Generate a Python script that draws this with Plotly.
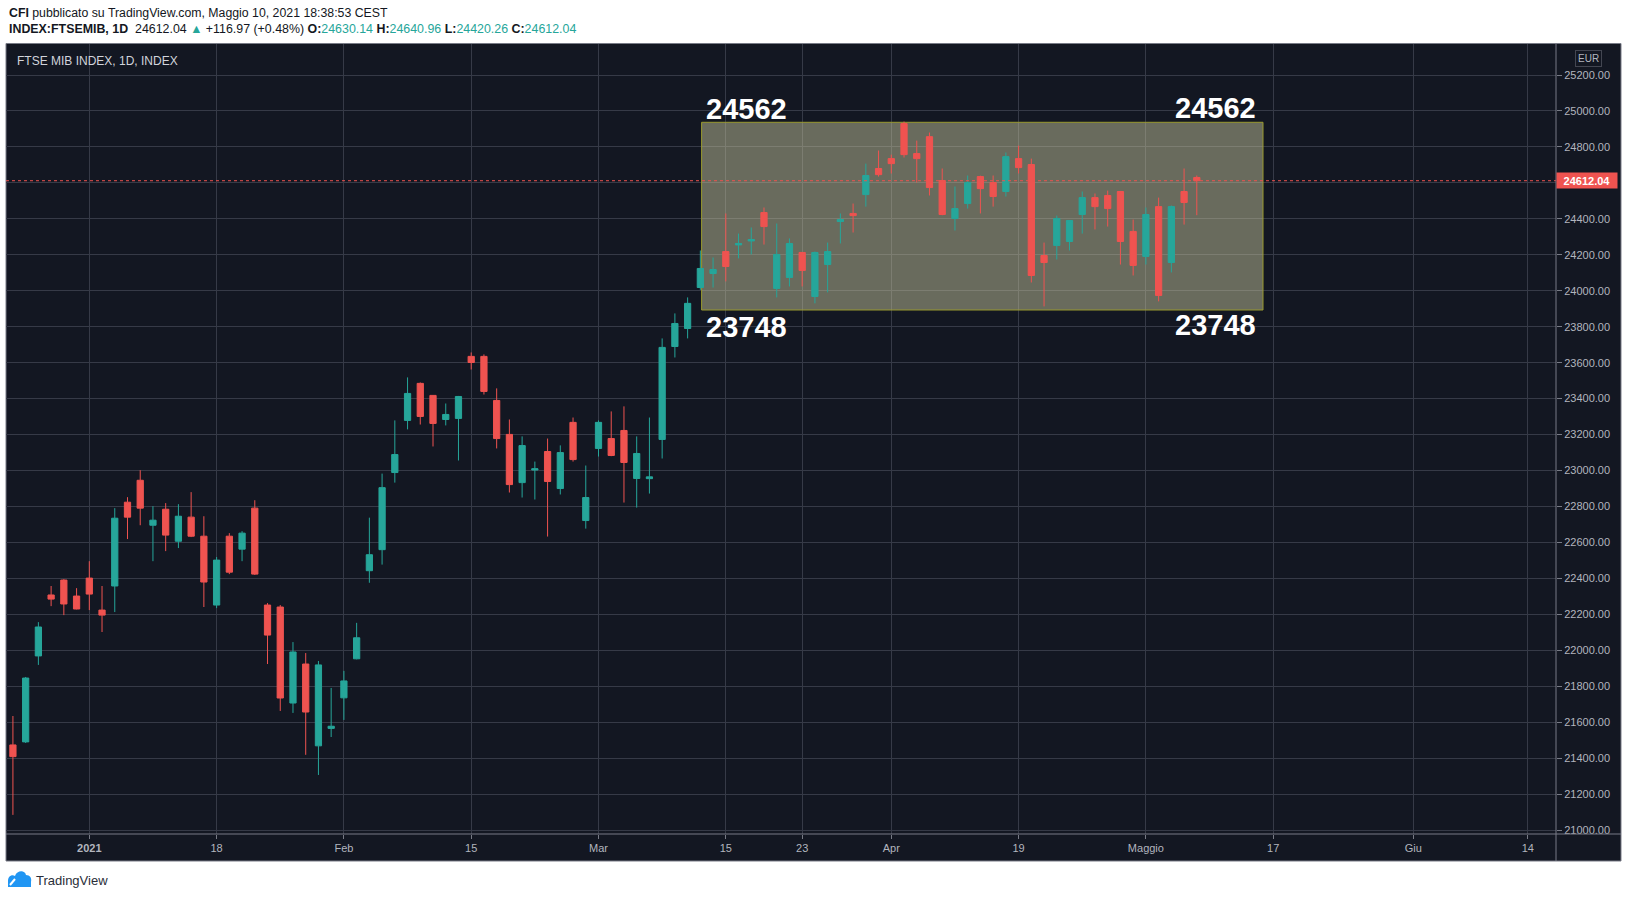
import plotly.graph_objects as go
import pandas as pd

# ---------------- data ----------------
dates = [
    "2020-12-21", "2020-12-22", "2020-12-23", "2020-12-28", "2020-12-29", "2020-12-30",
    "2021-01-04", "2021-01-05", "2021-01-06", "2021-01-07", "2021-01-08",
    "2021-01-11", "2021-01-12", "2021-01-13", "2021-01-14", "2021-01-15",
    "2021-01-18", "2021-01-19", "2021-01-20", "2021-01-21", "2021-01-22",
    "2021-01-25", "2021-01-26", "2021-01-27", "2021-01-28", "2021-01-29",
    "2021-02-01", "2021-02-02", "2021-02-03", "2021-02-04", "2021-02-05",
    "2021-02-08", "2021-02-09", "2021-02-10", "2021-02-11", "2021-02-12",
    "2021-02-15", "2021-02-16", "2021-02-17", "2021-02-18", "2021-02-19",
    "2021-02-22", "2021-02-23", "2021-02-24", "2021-02-25", "2021-02-26",
    "2021-03-01", "2021-03-02", "2021-03-03", "2021-03-04", "2021-03-05",
    "2021-03-08", "2021-03-09", "2021-03-10", "2021-03-11", "2021-03-12",
    "2021-03-15", "2021-03-16", "2021-03-17", "2021-03-18", "2021-03-19",
    "2021-03-22", "2021-03-23", "2021-03-24", "2021-03-25", "2021-03-26",
    "2021-03-29", "2021-03-30", "2021-03-31", "2021-04-01",
    "2021-04-06", "2021-04-07", "2021-04-08", "2021-04-09",
    "2021-04-12", "2021-04-13", "2021-04-14", "2021-04-15", "2021-04-16",
    "2021-04-19", "2021-04-20", "2021-04-21", "2021-04-22", "2021-04-23",
    "2021-04-26", "2021-04-27", "2021-04-28", "2021-04-29", "2021-04-30",
    "2021-05-03", "2021-05-04", "2021-05-05", "2021-05-06", "2021-05-07",
]
opens = [
    21474, 21491, 21969, 22308, 22391, 22302,
    22402, 22224, 22358, 22824, 22946,
    22696, 22785, 22607, 22741, 22635,
    22252, 22635, 22563, 22791, 22252,
    22241, 21707, 21924, 21469, 21566,
    21736, 21953, 22443, 22560, 22989,
    23279, 23485, 23418, 23284, 23290,
    23635, 23635, 23390, 23201, 22933,
    23003, 23106, 22900, 23268, 22722,
    23123, 23178, 23223, 22956, 22955,
    23173, 23690, 23790, 24018, 24096,
    24218, 24255, 24277, 24435, 24013,
    24074, 24213, 23968, 24146, 24385,
    24430, 24535, 24680, 24735,
    24930, 24763, 24857, 24613,
    24402, 24485, 24635, 24602, 24552,
    24735, 24702, 24196, 24252, 24274,
    24424, 24518, 24530, 24552, 24330,
    24191, 24468, 24157, 24552, 24630.14,
]
highs = [
    21635, 21852, 22157, 22358, 22396, 22346,
    22496, 22358, 22791, 22852, 23002,
    22802, 22819, 22813, 22880, 22746,
    22519, 22652, 22663, 22835, 22263,
    22252, 22046, 21985, 21941, 21791,
    21886, 22153, 22738, 22983, 23279,
    23518, 23490, 23420, 23373, 23415,
    23657, 23646, 23457, 23284, 23190,
    23050, 23178, 23140, 23295, 23028,
    23279, 23329, 23357, 23190, 23295,
    23735, 23874, 23963, 24224, 24185,
    24430, 24318, 24352, 24463, 24374,
    24291, 24215, 24218, 24268, 24430,
    24485, 24707, 24780, 24757,
    24941, 24835, 24880, 24680,
    24580, 24641, 24640, 24641, 24769,
    24807, 24735, 24268, 24418, 24393,
    24552, 24541, 24557, 24555, 24396,
    24463, 24518, 24474, 24680, 24640.96,
]
lows = [
    21085, 21485, 21919, 22246, 22196, 22228,
    22224, 22102, 22213, 22619, 22696,
    22496, 22552, 22569, 22630, 22241,
    22235, 22424, 22496, 22419, 21924,
    21663, 21652, 21419, 21307, 21518,
    21613, 21950, 22376, 22477, 22933,
    23229, 23256, 23134, 23251, 23056,
    23562, 23423, 23123, 22878, 22850,
    22839, 22633, 22867, 23050, 22677,
    23078, 23080, 22822, 22794, 22872,
    23067, 23629, 23735, 24005, 24018,
    24052, 24180, 24202, 24257, 23963,
    24024, 24024, 23930, 23991, 24263,
    24324, 24468, 24635, 24652,
    24741, 24602, 24530, 24420,
    24335, 24457, 24430, 24468, 24524,
    24652, 24046, 23913, 24174, 24224,
    24318, 24341, 24357, 24146, 24085,
    24146, 23941, 24102, 24368, 24420.26,
]
closes = [
    21409, 21846, 22130, 22285, 22258, 22230,
    22313, 22196, 22735, 22741, 22791,
    22724, 22641, 22746, 22635, 22380,
    22502, 22435, 22652, 22424, 22085,
    21735, 21991, 21657, 21919, 21578,
    21830, 22070, 22532, 22905, 23089,
    23429, 23301, 23262, 23312, 23412,
    23601, 23440, 23178, 22922, 23139,
    23010, 22939, 23100, 23061, 22850,
    23268, 23084, 23045, 23095, 22965,
    23685, 23818, 23930, 24124, 24118,
    24135, 24263, 24285, 24357, 24202,
    24263, 24113, 24213, 24218, 24396,
    24418, 24641, 24646, 24707,
    24757, 24735, 24574, 24424,
    24457, 24602, 24568, 24524, 24746,
    24685, 24085, 24157, 24402, 24391,
    24518, 24468, 24457, 24274, 24141,
    24424, 23974, 24468, 24491, 24612.04,
]

tick_dates = ["2021-01-04", "2021-01-18", "2021-02-01", "2021-02-15", "2021-03-01",
              "2021-03-15", "2021-03-23", "2021-04-01", "2021-04-19", "2021-05-03",
              "2021-05-17", "2021-06-01", "2021-06-14"]
tick_labels = ["<b>2021</b>", "18", "Feb", "15", "Mar", "15", "23", "Apr", "19",
               "Maggio", "17", "Giu", "14"]

price_ticks = list(range(21000, 25201, 200))
price_labels = [f"{v}.00" for v in price_ticks]
last_price = 24612.04

zone_labels_top = "24562"
zone_labels_bottom = "23748"
# zone rectangle drawing (bar index / price)
zone_x = [54.1, 98.2]
zone_y = [23893, 24937]

# ---------------- styles ----------------
W, H = 1627, 899
PL, PR, PT, PB = 6, 1556, 44, 834
BG = "#131722"
GRID = "#363a47"
SEP = "#787b86"
TXT = "#b2b5be"
UP = "#26a69a"
DN = "#ef5350"
FONT = "Liberation Sans, Arial, sans-serif"

PX_PER_BAR = 12.73
X0_PIX = 89.3  # pixel of bar 6
x_lo = 6 - (X0_PIX - PL) / PX_PER_BAR
x_hi = x_lo + (PR - PL) / PX_PER_BAR
PX_PER_UNIT = 0.1798
y_hi = 25200 + (75 - PT) / PX_PER_UNIT
y_lo = y_hi - (PB - PT) / PX_PER_UNIT


def xp(px):
    return (px - PL) / (PR - PL)


def yp(py):
    return (PB - py) / (PB - PT)


def bar_index(d):
    if d in dates:
        return dates.index(d)
    extra = pd.bdate_range(pd.Timestamp(dates[-1]) + pd.Timedelta(days=1), pd.Timestamp(d))
    return len(dates) - 1 + len(extra)


xs = list(range(len(dates)))
tick_x = [bar_index(d) for d in tick_dates]

fig = go.Figure()
fig.add_trace(go.Candlestick(
    x=xs, open=opens, high=highs, low=lows, close=closes,
    increasing=dict(line=dict(color=UP, width=1), fillcolor=UP),
    decreasing=dict(line=dict(color=DN, width=1), fillcolor=DN),
    whiskerwidth=0, hoverinfo="skip", showlegend=False,
))

shapes = []
# dark chart panel
shapes.append(dict(type="rect", xref="paper", yref="paper",
                   x0=xp(6), x1=xp(1621), y0=yp(861), y1=yp(43.5),
                   fillcolor=BG, line=dict(color=SEP, width=1), layer="below"))
# zone rectangle
shapes.append(dict(type="rect", xref="x", yref="y",
                   x0=zone_x[0], x1=zone_x[1], y0=zone_y[0], y1=zone_y[1],
                   fillcolor="rgba(201,198,159,0.48)",
                   line=dict(color="#9a9a2e", width=1), layer="between"))
# last price dotted line
shapes.append(dict(type="line", xref="paper", yref="y", x0=0, x1=1,
                   y0=last_price, y1=last_price,
                   line=dict(color=DN, width=1, dash="dot")))
# separators
shapes.append(dict(type="line", xref="paper", yref="paper", x0=xp(PR), x1=xp(PR),
                   y0=yp(861), y1=yp(43.5), line=dict(color=SEP, width=1)))
shapes.append(dict(type="line", xref="paper", yref="paper", x0=xp(6), x1=xp(1621),
                   y0=yp(PB), y1=yp(PB), line=dict(color=SEP, width=1)))


def path(points, close=True):
    s = ""
    for cmd, pts in points:
        s += cmd + " " + " ".join(f"{xp(a):.5f},{yp(b):.5f}" for a, b in pts) + " "
    return s + ("Z" if close else "")


cloud = [("M", [(8, 887)]), ("L", [(8, 881)]),
         ("C", [(8, 876), (12, 874), (15, 876)]),
         ("C", [(17, 870), (25, 870), (26, 875)]),
         ("C", [(30, 875), (32, 878), (31, 882)]),
         ("L", [(31, 887)])]
shapes.append(dict(type="path", xref="paper", yref="paper", path=path(cloud),
                   fillcolor="#2196f3", line=dict(width=0)))
zig = [("M", [(10, 885)]), ("L", [(15, 879), (19, 883), (24, 877), (29, 882)])]
shapes.append(dict(type="path", xref="paper", yref="paper", path=path(zig, close=False),
                   line=dict(color="white", width=2)))

ann = []
hdr = "#131722"
ann.append(dict(xref="paper", yref="paper", x=xp(7), y=yp(13), xanchor="left", yanchor="middle",
                text="<b>CFI</b> pubblicato su TradingView.com, Maggio 10, 2021 18:38:53 CEST",
                showarrow=False, font=dict(family=FONT, size=12.3, color=hdr)))
g = lambda t: f"<span style='color:{UP}'>{t}</span>"
line2 = ("<b>INDEX:FTSEMIB, 1D</b>  24612.04 " + g("▲") + " +116.97 (+0.48%) "
         + "<b>O:</b>" + g("24630.14") + " <b>H:</b>" + g("24640.96")
         + " <b>L:</b>" + g("24420.26") + " <b>C:</b>" + g("24612.04"))
ann.append(dict(xref="paper", yref="paper", x=xp(7), y=yp(29.5), xanchor="left", yanchor="middle",
                text=line2, showarrow=False, font=dict(family=FONT, size=12.4, color=hdr)))
ann.append(dict(xref="paper", yref="paper", x=xp(15), y=yp(61), xanchor="left", yanchor="middle",
                text="FTSE MIB INDEX, 1D, INDEX", showarrow=False,
                font=dict(family=FONT, size=12, color="#d1d4dc")))
ann.append(dict(xref="paper", yref="paper", x=xp(34), y=yp(880), xanchor="left", yanchor="middle",
                text="TradingView", showarrow=False,
                font=dict(family=FONT, size=13, color="#2a2e39")))
# EUR badge
ann.append(dict(xref="paper", yref="paper", x=xp(1588), y=yp(59), xanchor="center", yanchor="middle",
                text="EUR", showarrow=False, bgcolor=BG, bordercolor="#434651", borderwidth=1,
                borderpad=2, font=dict(family=FONT, size=10, color=TXT)))
# last price label
ann.append(dict(xref="paper", yref="y", x=xp(PR), y=last_price, xanchor="left", yanchor="middle",
                text=f"<b>{last_price:.2f}</b>", showarrow=False, bgcolor=DN, width=56, height=11,
                borderpad=2, align="center", font=dict(family=FONT, size=11, color="white")))
# zone labels
big = dict(family=FONT, size=29, color="white")
ann.append(dict(xref="paper", yref="paper", x=xp(704), y=yp(109), xanchor="left", yanchor="middle",
                text=f"<b>{zone_labels_top}</b>", showarrow=False, font=big))
ann.append(dict(xref="paper", yref="paper", x=xp(1258), y=yp(108), xanchor="right", yanchor="middle",
                text=f"<b>{zone_labels_top}</b>", showarrow=False, font=big))
ann.append(dict(xref="paper", yref="paper", x=xp(704), y=yp(327), xanchor="left", yanchor="middle",
                text=f"<b>{zone_labels_bottom}</b>", showarrow=False, font=big))
ann.append(dict(xref="paper", yref="paper", x=xp(1258), y=yp(325), xanchor="right", yanchor="middle",
                text=f"<b>{zone_labels_bottom}</b>", showarrow=False, font=big))

fig.update_layout(
    width=W, height=H, autosize=False,
    margin=dict(l=PL, r=W - PR, t=PT, b=H - PB, pad=0),
    paper_bgcolor="white", plot_bgcolor=BG,
    shapes=shapes, annotations=ann,
    showlegend=False, hovermode=False,
    xaxis=dict(range=[x_lo, x_hi], tickmode="array", tickvals=tick_x, ticktext=tick_labels,
               showgrid=True, gridcolor=GRID, gridwidth=1, zeroline=False,
               ticks="outside", ticklen=4, tickcolor=SEP, showline=False,
               tickfont=dict(family=FONT, size=11, color=TXT),
               rangeslider=dict(visible=False), fixedrange=True, automargin=False),
    yaxis=dict(range=[y_lo, y_hi], side="right", tickmode="array", tickvals=price_ticks,
               ticktext=price_labels, showgrid=True, gridcolor=GRID, gridwidth=1,
               zeroline=False, ticks="outside", ticklen=5, tickcolor=SEP, showline=False,
               tickfont=dict(family=FONT, size=11, color=TXT), fixedrange=True,
               automargin=False),
)

fig.write_html("out.html")
